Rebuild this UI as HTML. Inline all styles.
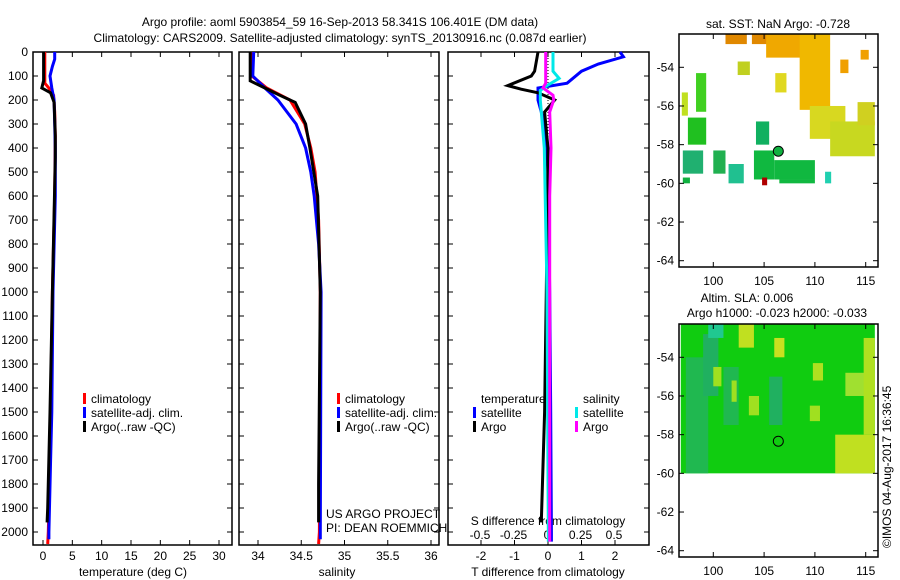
<!DOCTYPE html>
<html><head><meta charset="utf-8"><style>
body{margin:0;background:#fff;}
svg{display:block;font-family:"Liberation Sans",sans-serif;}
text{font-size:12px;fill:#000;}
</style></head><body>
<svg id="fig" width="900" height="580" viewBox="0 0 900 580" xmlns="http://www.w3.org/2000/svg">
<text x="340" y="26" text-anchor="middle">Argo profile: aoml 5903854_59 16-Sep-2013 58.341S 106.401E (DM data)</text>
<text x="340" y="42" text-anchor="middle">Climatology: CARS2009. Satellite-adjusted climatology: synTS_20130916.nc (0.087d earlier)</text>
<g id="g"></g>
</svg>
<script>
// depths (m)
const tDepthClim=[0,130,150,180,250,350,600,1000,1500,1800,2000,2050];
const tClim=[0.3,0.3,1.0,1.8,2.0,2.1,2.0,1.6,1.3,1.1,0.9,0.8];
const tDepthSat=[0,30,60,100,150,200,300,400,600,1000,1500,1700,2000,2030];
const tSat=[2.0,2.0,1.6,1.2,1.5,1.9,2.0,2.1,2.1,1.7,1.5,1.3,1.0,1.0];
const tDepthArgo=[0,120,150,170,210,350,440,1000,1500,1900,1960];
const tArgo=[0.1,0.1,-0.2,1.3,1.9,2.1,2.1,1.6,1.2,0.8,0.7];
const sDepthClim=[0,100,150,200,300,400,500,600,700,1000,2000,2050];
const sClim=[33.93,33.93,34.1,34.37,34.54,34.61,34.66,34.68,34.70,34.72,34.71,34.70];
const sDepthSat=[0,100,150,200,300,400,500,600,800,1000,2000,2030];
const sSat=[33.95,33.94,34.08,34.23,34.44,34.55,34.61,34.65,34.70,34.73,34.72,34.72];
const sDepthArgo=[0,120,150,180,210,300,400,600,1000,1800,1960];
const sArgo=[33.91,33.91,34.08,34.25,34.43,34.55,34.6,34.69,34.72,34.70,34.70];
const dDepthT=[0,20,50,80,130,150,200,300,500,1000,1500,2000,2040];
const dTSat=[2.15,2.25,1.5,1.0,0.57,-0.3,-0.3,-0.1,0,0.05,0.08,0.1,0.1];
const dDepthTA=[0,80,100,140,155,170,200,250,400,1000,1500,1960];
const dTArgo=[-0.3,-0.4,-0.5,-1.2,-0.8,-0.3,0.2,-0.1,0,-0.05,-0.1,-0.2];
const dDepthS=[0,80,110,140,160,200,400,1000,2000,2040];
const dSSat=[0.045,0.045,0.09,0.0,-0.05,-0.05,-0.02,0.0,0.01,0.01];
const dDepthSA=[0,130,150,180,200,250,400,600,1000,2000,2040];
const dSArgo=[-0.01,-0.01,-0.03,0.045,0.05,0.02,0.03,0.02,0.02,0.02,0.02];
const depthTicks=[0,100,200,300,400,500,600,700,800,900,1000,1100,1200,1300,1400,1500,1600,1700,1800,1900,2000];
const tTicks=[0,5,10,15,20,25,30];
const sTicks=[34,34.5,35,35.5,36];
const sTickLabels=["34","34.5","35","35.5","36"];
const dTTicks=[-2,-1,0,1,2];
const dSTicks=[-0.5,-0.25,0,0.25,0.5];
const dSTickLabels=["-0.5","-0.25","0","0.25","0.5"];
const lonTicks=[100,105,110,115];
const latTicks=[-54,-56,-58,-60,-62,-64];

const NS="http://www.w3.org/2000/svg",G=document.getElementById('g');
function el(t,a,p){const e=document.createElementNS(NS,t);for(const k in a)e.setAttribute(k,a[k]);(p||G).appendChild(e);return e;}
const yD=d=>52+d*0.24;
const xT=v=>43+v*(176/30);
const xS=v=>258+(v-34)*86.5;
const xDT=v=>548+v*33.5;
const xDS=v=>547+v*134;
function frame(x0,x1,y0,y1,name){const r=el('rect',{x:x0,y:y0,width:x1-x0,height:y1-y0,fill:'none',stroke:'#000','stroke-width':1.5});

}
function line(xs,ds,xf,col,name){const pts=xs.map((v,i)=>xf(v).toFixed(1)+','+yD(ds[i]).toFixed(1)).join(' ');
const p=el('polyline',{points:pts,fill:'none',stroke:col,'stroke-width':3});

}
function txt(x,y,s,anchor,name,size){const t=el('text',{x:x,y:y,'text-anchor':anchor||'start'});if(size)t.style.fontSize=size+'px';t.textContent=s;

return t;}
function xticks(vals,labels,xf,y0,y1,ly,name){vals.forEach((v,i)=>{const x=xf(v);
el('line',{x1:x,x2:x,y1:y0,y2:y0+5,stroke:'#000'});el('line',{x1:x,x2:x,y1:y1,y2:y1-5,stroke:'#000'});
txt(x,ly,labels[i],'middle',name);});}
// panels
const P=[[33,232],[239,439],[448,649]];
P.forEach((p,i)=>{frame(p[0],p[1],52,545,'profile-panel-'+(i+1));
depthTicks.forEach(d=>{el('line',{x1:p[0],x2:p[0]+5,y1:yD(d),y2:yD(d),stroke:'#000'});el('line',{x1:p[1],x2:p[1]-5,y1:yD(d),y2:yD(d),stroke:'#000'});});});
depthTicks.forEach(d=>txt(28,yD(d)+4,String(d),'end','depth-tick-label'));
xticks(tTicks,tTicks.map(String),xT,52,545,560,'temperature-tick-label');
xticks(sTicks,sTickLabels,xS,52,545,560,'salinity-tick-label');
xticks(dTTicks,dTTicks.map(String),xDT,52,545,560,'t-diff-tick-label');
dSTicks.forEach((v,i)=>txt(xDS(v),539,dSTickLabels[i],'middle','s-diff-tick-label'));
txt(133,576,'temperature (deg C)','middle','temperature-axis-title');
txt(337,576,'salinity','middle','salinity-axis-title');
txt(548,576,'T difference from climatology','middle','t-diff-axis-title');
txt(548,525,'S difference from climatology','middle','s-diff-axis-title');
el('line',{x1:xDT(0),x2:xDT(0),y1:52,y2:545,stroke:'#000','stroke-dasharray':'1,2'});
// series
line(tClim,tDepthClim,xT,'#ff0000','temp-climatology-line');
line(tSat,tDepthSat,xT,'#0000ff','temp-satellite-line');
line(tArgo,tDepthArgo,xT,'#000','temp-argo-line');
line(sClim,sDepthClim,xS,'#ff0000','sal-climatology-line');
line(sSat,sDepthSat,xS,'#0000ff','sal-satellite-line');
line(sArgo,sDepthArgo,xS,'#000','sal-argo-line');
line(dTSat,dDepthT,xDT,'#0000ff','tdiff-satellite-line');
line(dTArgo,dDepthTA,xDT,'#000','tdiff-argo-line');
line(dSSat,dDepthS,xDS,'#00e8e8','sdiff-satellite-line');
line(dSArgo,dDepthSA,xDS,'#ff00ff','sdiff-argo-line');
// legends
function leg(x,y,col,s,name){const r=el('rect',{x:x,y:y-10,width:3,height:11,fill:col});


txt(x+8,y,s,'start',name);}
leg(83,403,'#ff0000','climatology','legend-climatology');
leg(83,417,'#0000ff','satellite-adj. clim.','legend-satellite');
leg(83,431,'#000','Argo(..raw -QC)','legend-argo');
leg(337,403,'#ff0000','climatology','legend2-climatology');
leg(337,417,'#0000ff','satellite-adj. clim.','legend2-satellite');
leg(337,431,'#000','Argo(..raw -QC)','legend2-argo');
txt(481,403,'temperature','start','legend-temperature-heading');
txt(583,403,'salinity','start','legend-salinity-heading');
leg(473,417,'#0000ff','satellite','legend-t-satellite');
leg(473,431,'#000','Argo','legend-t-argo');
leg(575,417,'#00e8e8','satellite','legend-s-satellite');
leg(575,431,'#ff00ff','Argo','legend-s-argo');
txt(326,518,'US ARGO PROJECT','start','project-label');
txt(326,532,'PI: DEAN ROEMMICH','start','pi-label');
// maps
const xL=v=>713.3+(v-100)*10.16;
const LATPX=19.34;
function mapAxes(y54,yTop,yBot,name){frame(679,878,yTop,yBot,name);
latTicks.forEach(v=>{const y=y54+(v+54)*-LATPX;el('line',{x1:679,x2:684,y1:y,y2:y,stroke:'#000'});el('line',{x1:878,x2:873,y1:y,y2:y,stroke:'#000'});txt(674,y+4,String(v),'end','latitude-tick-label');});
lonTicks.forEach(v=>{const x=xL(v);el('line',{x1:x,x2:x,y1:yBot,y2:yBot-5,stroke:'#000'});el('line',{x1:x,x2:x,y1:yTop,y2:yTop+5,stroke:'#000'});txt(x,yBot+18,String(v),'middle','longitude-tick-label');});}
const yM1=v=>67.3+(v+54)*-LATPX, yM2=v=>357.3+(v+54)*-LATPX;
function blob(m,lon0,lon1,lat0,lat1,col,name){const yf=m===1?yM1:yM2;
const r=el('rect',{x:xL(lon0),y:yf(lat0),width:xL(lon1)-xL(lon0),height:yf(lat1)-yf(lat0),fill:col});

}
// top SST map blobs
blob(1,101.2,103.3,-52.3,-52.8,'#e08800','sst-patch');
blob(1,103.8,105.5,-52.3,-52.8,'#e08800','sst-patch');
blob(1,105.2,110.2,-52.3,-53.5,'#f0a800','sst-patch');
blob(1,108.5,111.5,-52.3,-56.2,'#f0b800','sst-patch');
blob(1,109.5,113,-56,-57.7,'#d8d820','sst-patch');
blob(1,111.5,115.9,-56.8,-58.6,'#c8d820','sst-patch');
blob(1,114.2,115.9,-55.8,-57,'#d0d020','sst-patch');
blob(1,112.5,113.3,-53.6,-54.3,'#f0a000','sst-patch');
blob(1,114.5,115.3,-53.1,-53.6,'#f0a000','sst-patch');
blob(1,102.4,103.6,-53.7,-54.4,'#c0d020','sst-patch');
blob(1,106.1,107.2,-54.3,-55.3,'#e0d820','sst-patch');
blob(1,97.5,99.3,-56.6,-58,'#20c020','sst-patch');
blob(1,98.3,99.3,-54.3,-56.3,'#40d020','sst-patch');
blob(1,96.9,97.5,-55.3,-56.5,'#c0e020','sst-patch');
blob(1,97,99,-58.3,-59.5,'#20b070','sst-patch');
blob(1,100,101.2,-58.3,-59.5,'#20b050','sst-patch');
blob(1,101.5,103,-59,-60,'#20c090','sst-patch');
blob(1,104,106,-58.3,-59.8,'#10b840','sst-patch');
blob(1,106,110,-58.8,-59.8,'#10b840','sst-patch');
blob(1,106.5,110,-59.8,-60,'#10b840','sst-patch');
blob(1,104.2,105.5,-56.8,-58,'#10b060','sst-patch');
blob(1,104.8,105.3,-59.7,-60.1,'#b00000','sst-patch-red');
blob(1,97,97.7,-59.7,-60,'#10b040','sst-patch');
blob(1,111,111.6,-59.4,-60,'#20d0b0','sst-patch');
mapAxes(67.3,34,267,'sst-map-frame');
// bottom SLA map
blob(2,96.8,115.9,-52.3,-60,'#10cc10','sla-background');
blob(2,97.3,99.5,-54,-60,'#20b850','sla-patch');
blob(2,99,100.5,-52.8,-56,'#20b060','sla-patch');
blob(2,101,102.5,-54.5,-57.5,'#20b850','sla-patch');
blob(2,105.5,106.8,-55,-57.5,'#20b060','sla-patch');
blob(2,99.5,101,-52.3,-53,'#20c890','sla-patch');
blob(2,102.5,104,-52.3,-53.5,'#c0e020','sla-patch');
blob(2,106,107,-53,-54,'#c8e020','sla-patch');
blob(2,100,100.8,-54.5,-55.5,'#a0e020','sla-patch');
blob(2,101.8,102.3,-55.2,-56.3,'#a0e020','sla-patch');
blob(2,103.5,104.5,-56,-57,'#a0e020','sla-patch');
blob(2,109.8,110.8,-54.3,-55.2,'#b0e020','sla-patch');
blob(2,109.5,110.5,-56.5,-57.3,'#a0e020','sla-patch');
blob(2,113,115.9,-54.8,-56,'#a0e030','sla-patch');
blob(2,112,115.9,-58,-60,'#c0e020','sla-patch');
blob(2,114.8,115.9,-53,-58,'#b0e020','sla-patch');
mapAxes(357.3,324,557,'sla-map-frame');
[[1,yM1],[2,yM2]].forEach(([m,yf])=>{const c=el('circle',{cx:xL(106.4),cy:yf(-58.34),r:5,fill:m===1?'#10b040':'none',stroke:'#000'});

});
txt(778,28,'sat. SST: NaN Argo: -0.728','middle','sst-map-title');
txt(747,302,'Altim. SLA: 0.006','middle','sla-map-title-1');
txt(777,317,'Argo h1000: -0.023 h2000: -0.033','middle','sla-map-title-2');
const c=txt(0,0,'©IMOS 04-Aug-2017 16:36:45','start','copyright-label');
c.setAttribute('transform','translate(891,548) rotate(-90)');
</script>
</body></html>
